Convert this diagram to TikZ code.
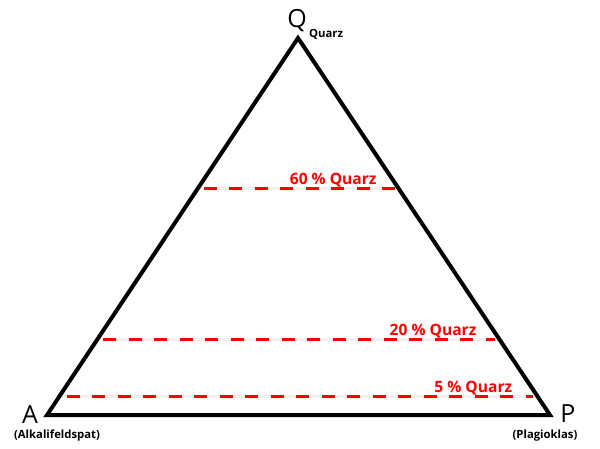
\documentclass[tikz,border=0pt]{standalone}
\usepackage{fontspec}
\setmainfont{Open Sans}
\usetikzlibrary{calc,positioning}
\definecolor{linecolor}{RGB}{255, 0, 0}
\definecolor{shadecolor}{RGB}{242, 242, 242}

\begin{document}
\begin{tikzpicture}[x=1pt, y=1pt,
    edge/.style={line width=4pt, black, line join=miter},
    level/.style={line width=3pt, linecolor, dash pattern=on 13pt off 12.5pt},
    levelshade/.style={line width=3pt, shadecolor},
    levellabel/.style={font=\fontsize{15.6}{15.6}\selectfont\bfseries, text=linecolor, anchor=base east, inner sep=0pt},
    corner/.style={font=\fontsize{25}{25}\selectfont, inner sep=0pt, anchor=base},
    mineral/.style={font=\fontsize{11.3}{11.3}\selectfont\bfseries, inner sep=0pt, anchor=base}]
  \useasboundingbox (0,0) rectangle (600,448);

  % Corners of the triangle
  \coordinate (A) at (47,33);
  \coordinate (P) at (550,33);
  \coordinate (Q) at (298,410);

  % Quartz levels (left end, right end)
  \coordinate (L60) at ($(A)!0.6!(Q)$);
  \coordinate (R60) at ($(P)!0.6!(Q)$);
  \coordinate (L20) at ($(A)!0.2!(Q)$);
  \coordinate (R20) at ($(P)!0.2!(Q)$);
  \coordinate (L05) at ($(A)!0.05!(Q)$);
  \coordinate (R05) at ($(P)!0.05!(Q)$);

  % Dashed lines
  \draw[levelshade, shorten <=6pt, shorten >=4pt] (L60) -- (R60);
  \draw[level, shorten <=6pt, shorten >=4pt] (L60) -- (R60);
  \draw[levelshade, shorten <=6pt, shorten >=5pt] (L20) -- (R20);
  \draw[level, shorten <=6pt, shorten >=5pt] (L20) -- (R20);
  \draw[levelshade, shorten <=7pt, shorten >=4pt] (L05) -- (R05);
  \draw[level, shorten <=7pt, shorten >=4pt] (L05) -- (R05);

  % Labels of the levels
  \node[levellabel] (q60) at ($(R60)+(-22,4)$) {60 \% Quarz};
  \node[levellabel] (q20) at ($(R20)+(-23,4)$) {20 \% Quarz};
  \node[levellabel] (q05) at ($(R05)+(-25,4)$) {5 \% Quarz};

  % Triangle
  \draw[edge] (A) -- (P) -- (Q) -- cycle;

  % Corner labels
  \node[corner] (labA) at (30,25) {A};
  \node[corner] (labP) at (568,26) {P};
  \node[corner] (labQ) at (297,420) {Q};
  \node[mineral, anchor=base west] (subQ) at (309,410) {Quarz};
  \node[mineral] (minA) at (57,10) {(Alkalifeldspat)};
  \node[mineral] (minP) at (545,10) {(Plagioklas)};
\end{tikzpicture}
\end{document}
